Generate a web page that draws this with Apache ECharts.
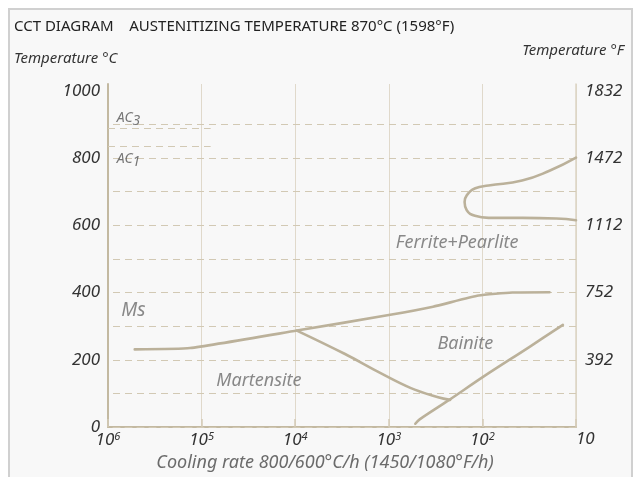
<!DOCTYPE html>
<html><head><meta charset="utf-8">
<script src="https://cdn.jsdelivr.net/npm/echarts@6/dist/echarts.min.js"></script>
<style>
html,body{margin:0;padding:0;background:#fff;}
#box{position:absolute;left:8px;top:8px;width:621px;height:480px;background:#f8f8f8;border:2px solid #d0d0d0;border-bottom:none;}
#chart{position:absolute;left:0;top:0;width:638px;height:477px;}
</style></head>
<body><div id="box"></div><div id="chart"></div>
<script>
// Cooling rate (°C/h) vs temperature (°C)
const msCurve = [[518000,231],[133000,235],[9600,287],[1000,333],[337,358],[110,391],[48,400],[19.2,401]];
const bainiteStart = [[9600,287],[2970,218],[1313,165],[580,116],[297,89],[221,81]];
const bainiteFinish = [[521,10],[468,23],[226,81],[97.5,150],[31.6,238],[13.8,304]];
const ferritePearlite = [[10,801],[19.2,762],[37.7,733],[86,718],[119,710],[147,689],[155,669],[147,645],[120,628],[86,622],[37.7,622],[16.2,620],[10,615]];
const gridTemps = [100,200,300,400,500,600,700,800,900];
const acLines = [{name:'AC', sub:'3', temp:887, label:[603000,920]},{name:'AC', sub:'1', temp:836, label:[603000,797]}];
const acEndRate = 80000;
const regionLabels = [
  {text:'Ferrite+Pearlite', at:[186,547]},
  {text:'Bainite', at:[152,248]},
  {text:'Martensite', at:[24400,138]},
  {text:'Ms', at:[536000,347], big:true}
];
const rateMin = 10, rateMax = 1000000;
const tempMin = 0, tempMax = 1020, tempLabelStep = 200;

const FONT = 'Noto Sans';
const curveColor = '#bbb19a';
const chart = echarts.init(document.getElementById('chart'), null, {renderer:'canvas'});

function curve(data, smooth){
  return {type:'line', data:data, smooth:smooth, symbol:'none', xAxisIndex:0, yAxisIndex:0,
    lineStyle:{color:curveColor, width:2.6, cap:'round', join:'round'}, z:5, silent:true};
}

const option = {
  animation:false,
  backgroundColor:'transparent',
  grid:{left:108, right:62, top:84, bottom:46, containLabel:false},
  xAxis:[{
    type:'log', logBase:10, min:rateMin, max:rateMax, inverse:true, interval:1,
    position:'bottom',
    name:'Cooling rate 800/600°C/h (1450/1080°F/h)', nameLocation:'middle', nameGap:24,
    nameTextStyle:{fontFamily:FONT, fontStyle:'italic', fontSize:18, color:'#6b6b6b', padding:[0,34,0,0]},
    axisLine:{show:true, lineStyle:{color:'#c3b9a1', width:2}},
    axisTick:{show:true, inside:true, length:8, lineStyle:{color:'#d3cab6', width:1.5}},
    splitLine:{show:true, lineStyle:{color:'#e0d9cb', width:1}},
    axisLabel:{margin:4, alignMinLabel:'left', fontFamily:FONT, fontStyle:'italic', fontSize:17, color:'#333',
      formatter:function(v){ const n=Math.round(Math.log10(v)); return n===1?'{b|10}':'{b|10}{s|'+n+'}'; },
      rich:{b:{fontFamily:FONT, fontStyle:'italic', fontSize:17, color:'#333'}, s:{fontFamily:FONT, fontStyle:'italic', fontSize:11, color:'#333', padding:[0,0,8,0]}}}
  },{
    type:'log', logBase:10, min:rateMin, max:rateMax, inverse:true, position:'top',
    axisLine:{show:true, lineStyle:{color:'#d2c9b4', width:1, type:[7,5]}},
    axisTick:{show:false}, axisLabel:{show:false}, splitLine:{show:false}
  }],
  yAxis:[{
    type:'value', min:tempMin, max:tempMax, interval:tempLabelStep, position:'left',
    axisLine:{show:true, lineStyle:{color:'#c3b9a1', width:2}},
    axisTick:{show:false}, splitLine:{show:false},
    axisLabel:{showMaxLabel:false, margin:8, fontFamily:FONT, fontStyle:'italic', fontSize:17, color:'#333',
      formatter:function(v){ return String(v); }}
  },{
    type:'value', min:tempMin, max:tempMax, interval:tempLabelStep, position:'right',
    axisLine:{show:true, lineStyle:{color:'#ddd5c4', width:1.5}},
    axisTick:{show:false}, splitLine:{show:false},
    axisLabel:{showMaxLabel:false, showMinLabel:false, margin:9, fontFamily:FONT, fontStyle:'italic', fontSize:17, color:'#333',
      formatter:function(v){ return String(Math.round(v*1.8+32)); }}
  }],
  graphic:[
    {type:'text', left:14, top:19, style:{text:'CCT DIAGRAM    AUSTENITIZING TEMPERATURE 870°C (1598°F)', font:'15px "Noto Sans"', fill:'#222'}},
    {type:'text', left:14, top:51, style:{text:'Temperature °C', font:'italic 15px "Noto Sans"', fill:'#333'}},
    {type:'text', right:14, top:43, style:{text:'Temperature °F', font:'italic 15px "Noto Sans"', fill:'#333'}}
  ],
  series:[
    {type:'line', data:[], xAxisIndex:0, yAxisIndex:0, silent:true,
      markLine:{symbol:'none', silent:true, animation:false, label:{show:false},
        lineStyle:{color:'#d2c9b4', width:1, type:[7,5]},
        data: gridTemps.map(t=>({yAxis:t})).concat(acLines.map(a=>[{coord:[rateMax,a.temp]},{coord:[acEndRate,a.temp]}]))}},
    curve(msCurve, 0.15),
    curve(bainiteStart, 0.4),
    curve(bainiteFinish, 0.3),
    curve(ferritePearlite, 0.5),
    {type:'scatter', symbolSize:0, silent:true, xAxisIndex:0, yAxisIndex:0, z:6,
      data: regionLabels.map(r=>({value:r.at, label:{show:true, position:'inside', formatter:r.text,
        fontFamily:FONT, fontStyle:'italic', fontSize:r.big?19:18, color:'#6b6b6b'}}))
        .concat(acLines.map(a=>({value:a.label, label:{show:true, position:'inside', formatter:'{m|'+a.name+'}{u|'+a.sub+'}',
          rich:{m:{fontFamily:FONT, fontStyle:'italic', fontSize:14, color:'#555'}, u:{fontFamily:FONT, fontStyle:'italic', fontSize:14, color:'#555', padding:[6,0,0,0]}}}})))}
  ]
};
chart.setOption(option);
</script></body></html>
